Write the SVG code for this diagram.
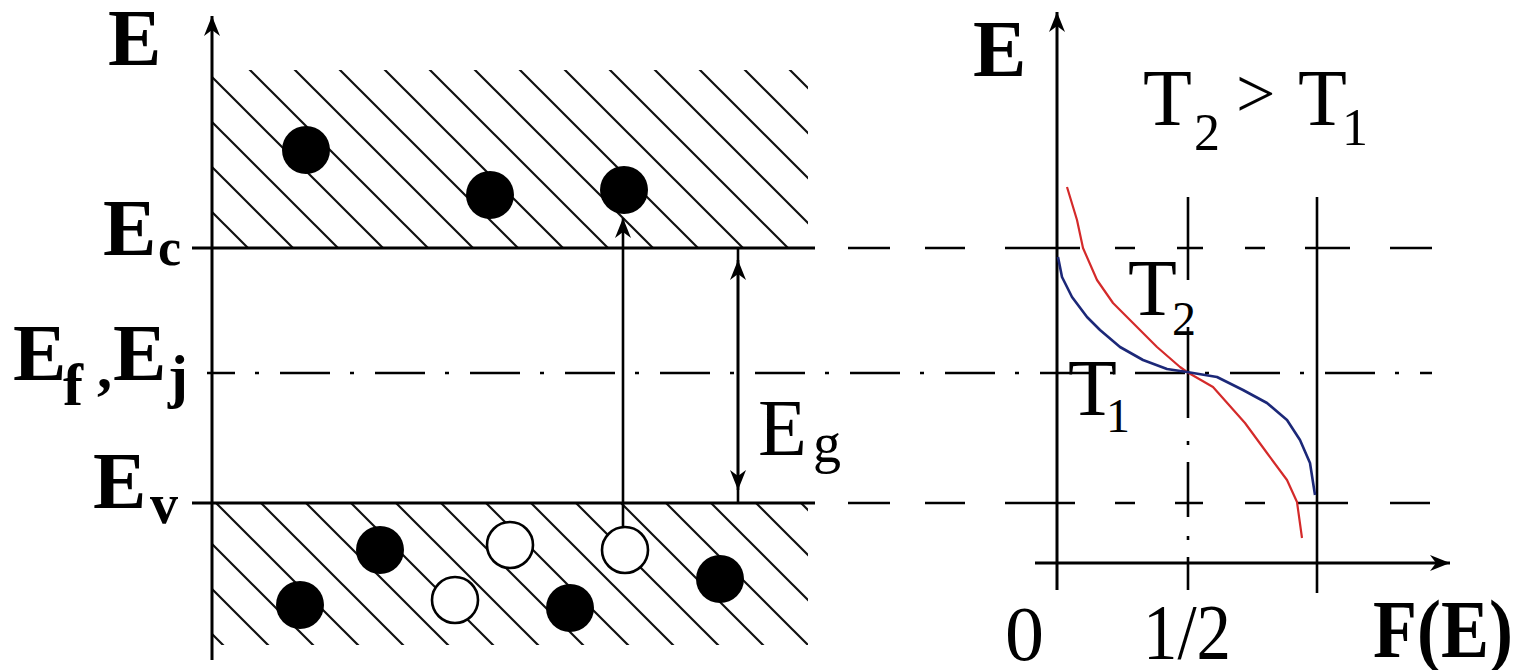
<svg xmlns="http://www.w3.org/2000/svg" width="1522" height="670" viewBox="0 0 1522 670">
<style>
.ax{stroke:#000;stroke-width:3;fill:none}
.ln{stroke:#000;stroke-width:2.6;fill:none}
.dash{stroke:#000;stroke-width:2.6;fill:none}
.dd{stroke:#000;stroke-width:2.6;fill:none;stroke-dasharray:50 20 4 21;stroke-dashoffset:22}
.bold{font-family:"Liberation Serif",serif;font-weight:bold;fill:#000}
.reg{font-family:"Liberation Serif",serif;fill:#000}
.full{fill:#000}
.hole{fill:#fff;stroke:#000;stroke-width:2.6}
</style>
<defs>
<pattern id="hatchA" patternUnits="userSpaceOnUse" x="0" y="0" width="45" height="45">
<path d="M-5,-5 L50,50 M-50,-5 L5,50 M40,-5 L95,50" stroke="#111" stroke-width="2.2" fill="none"/>
</pattern>
<pattern id="hatchB" patternUnits="userSpaceOnUse" x="28" y="0" width="45" height="45">
<path d="M-5,-5 L50,50 M-50,-5 L5,50 M40,-5 L95,50" stroke="#111" stroke-width="2.2" fill="none"/>
</pattern>
<marker id="ah" markerUnits="userSpaceOnUse" markerWidth="24" markerHeight="22" viewBox="-22 -11 24 22" refX="0" refY="0" orient="auto">
<path d="M0,0 L-20,-8 L-14,0 L-20,8 Z" fill="#000"/>
</marker>
</defs>

<g id="conduction-band">
<rect x="212" y="70" width="596" height="178" fill="url(#hatchA)"/>
<circle class="full" cx="306" cy="150" r="24"/>
<circle class="full" cx="490" cy="195" r="24"/>
<circle class="full" cx="624" cy="190" r="24"/>
</g>

<g id="valence-band">
<rect x="212" y="503" width="596" height="142" fill="url(#hatchB)"/>
<circle class="full" cx="380" cy="550" r="24"/>
<circle class="full" cx="300" cy="605" r="24"/>
<circle class="full" cx="570" cy="608" r="24"/>
<circle class="full" cx="720" cy="579" r="24"/>
<circle class="hole" cx="510" cy="545" r="23"/>
<circle class="hole" cx="455" cy="600" r="23"/>
<circle class="hole" cx="625" cy="550" r="23"/>
</g>

<g id="connectors">
<line class="ax" x1="212" y1="660" x2="212" y2="16" marker-end="url(#ah)"/>
<line class="ax" x1="192" y1="248" x2="815" y2="248"/>
<line class="ax" x1="192" y1="503" x2="815" y2="503"/>
<line class="dd" x1="207" y1="373" x2="1432" y2="373"/>
<line class="ln" x1="623" y1="527" x2="623" y2="218" marker-end="url(#ah)"/>
<line class="ln" x1="738" y1="248" x2="738" y2="503"/>
<line class="ln" x1="738" y1="380" x2="738" y2="260" marker-end="url(#ah)"/>
<line class="ln" x1="738" y1="380" x2="738" y2="490" marker-end="url(#ah)"/>
<path class="dash" d="M848,248 H890 M925,248 H965 M1005,248 H1080 M1115,248 H1135 M1177,248 H1203 M1245,248 H1265 M1305,248 H1350 M1390,248 H1432"/>
<path class="dash" d="M848,503 H890 M925,503 H965 M1005,503 H1075 M1115,503 H1135 M1175,503 H1203 M1245,503 H1265 M1297,503 H1348 M1390,503 H1430"/>
<line class="ax" x1="1057" y1="590" x2="1057" y2="12" marker-end="url(#ah)"/>
<line class="ax" x1="1035" y1="563" x2="1450" y2="563" marker-end="url(#ah)"/>
<path class="ln" d="M1188,197 V280 M1188,327 V418 M1188,441 v4 M1188,462 V517 M1188,536 v4 M1188,557 V590"/>
<line class="ln" x1="1317" y1="197" x2="1317" y2="593"/>
<polyline fill="none" stroke="#d42a2a" stroke-width="2.2" stroke-linejoin="round" points="1067,187 1077,220 1083,248 1097,280 1113,303 1133,323 1157,347 1180,367 1187,372 1213,387 1245,423 1267,453 1287,480 1297,502 1302,538"/>
<polyline fill="none" stroke="#1c2878" stroke-width="2.6" stroke-linejoin="round" points="1058,257 1062,277 1072,297 1087,317 1100,330 1120,347 1143,360 1167,369 1187,372 1217,377 1243,390 1267,403 1287,420 1300,440 1310,463 1315,495"/>
</g>

<g id="labels-left">
<text class="bold" x="108" y="65" font-size="80">E</text>
<text class="bold" x="103" y="255" font-size="80">E</text>
<text class="bold" x="158" y="265" font-size="52">c</text>
<text class="bold" x="13" y="380" font-size="80">E</text>
<text class="bold" x="63" y="405" font-size="60">f</text>
<text class="bold" x="97" y="388" font-size="60">,</text>
<text class="bold" x="113" y="380" font-size="80">E</text>
<text class="bold" x="168" y="396" font-size="60">j</text>
<text class="bold" x="93" y="508" font-size="80">E</text>
<text class="bold" x="150" y="523" font-size="56">v</text>
<text class="reg" x="758" y="455" font-size="80">E</text>
<text class="reg" x="813" y="462" font-size="56">g</text>
</g>

<g id="labels-right">
<text class="bold" x="973" y="76" font-size="80">E</text>
<text class="reg" x="1143" y="125" font-size="80">T</text>
<text class="reg" x="1194" y="150" font-size="52">2</text>
<text class="reg" x="1236" y="117" font-size="70">&gt;</text>
<text class="reg" x="1298" y="125" font-size="80">T</text>
<text class="reg" x="1342" y="145" font-size="52">1</text>
<text class="reg" x="1128" y="315" font-size="80">T</text>
<text class="reg" x="1172" y="335" font-size="48">2</text>
<text class="reg" x="1068" y="415" font-size="80">T</text>
<text class="reg" x="1106" y="432" font-size="48">1</text>
<text class="reg" x="1005" y="660" font-size="78">0</text>
<text class="reg" x="1143" y="658" font-size="78" textLength="88" lengthAdjust="spacingAndGlyphs">1/2</text>
<text class="bold" x="1373" y="657" font-size="82" textLength="140" lengthAdjust="spacingAndGlyphs">F(E)</text>
</g>
</svg>
